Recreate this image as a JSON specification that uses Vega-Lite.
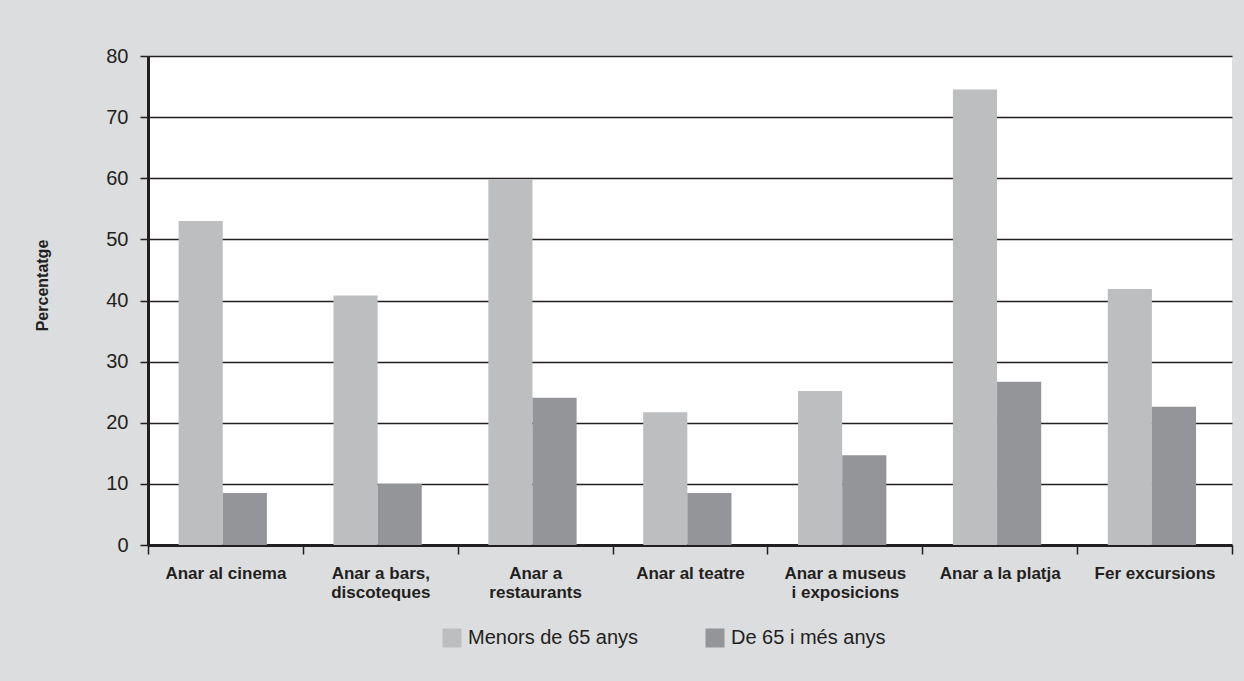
{
  "$schema": "https://vega.github.io/schema/vega-lite/v6.json",
  "autosize": {"type": "none"},
  "width": 1084,
  "height": 489,
  "padding": {"left": 148, "top": 56, "right": 12, "bottom": 136},
  "background": "#dcdddf",
  "config": {
    "view": {"fill": "white", "stroke": null},
    "font": "Liberation Sans"
  },
  "data": {
    "values": [
      {"activitat": "Anar al cinema", "grup": "Menors de 65 anys", "percentatge": 53},
      {"activitat": "Anar al cinema", "grup": "De 65 i més anys", "percentatge": 8.5},
      {"activitat": "Anar a bars, discoteques", "grup": "Menors de 65 anys", "percentatge": 40.8},
      {"activitat": "Anar a bars, discoteques", "grup": "De 65 i més anys", "percentatge": 10},
      {"activitat": "Anar a restaurants", "grup": "Menors de 65 anys", "percentatge": 59.8},
      {"activitat": "Anar a restaurants", "grup": "De 65 i més anys", "percentatge": 24.1},
      {"activitat": "Anar al teatre", "grup": "Menors de 65 anys", "percentatge": 21.7},
      {"activitat": "Anar al teatre", "grup": "De 65 i més anys", "percentatge": 8.5},
      {"activitat": "Anar a museus i exposicions", "grup": "Menors de 65 anys", "percentatge": 25.2},
      {"activitat": "Anar a museus i exposicions", "grup": "De 65 i més anys", "percentatge": 14.7},
      {"activitat": "Anar a la platja", "grup": "Menors de 65 anys", "percentatge": 74.5},
      {"activitat": "Anar a la platja", "grup": "De 65 i més anys", "percentatge": 26.7},
      {"activitat": "Fer excursions", "grup": "Menors de 65 anys", "percentatge": 41.9},
      {"activitat": "Fer excursions", "grup": "De 65 i més anys", "percentatge": 22.6}
    ]
  },
  "mark": {"type": "bar"},
  "encoding": {
    "x": {
      "field": "activitat",
      "type": "nominal",
      "sort": null,
      "scale": {"paddingInner": 0, "paddingOuter": 0},
      "axis": {
        "title": null,
        "labelAngle": 0,
        "labelFont": "Liberation Sans",
        "labelFontWeight": "bold",
        "labelFontSize": 17,
        "labelColor": "#231f20",
        "labelPadding": 11,
        "labelLineHeight": 19,
        "labelLimit": 200,
        "labelExpr": "datum.value == 'Anar a bars, discoteques' ? ['Anar a bars,', 'discoteques'] : datum.value == 'Anar a restaurants' ? ['Anar a', 'restaurants'] : datum.value == 'Anar a museus i exposicions' ? ['Anar a museus', 'i exposicions'] : datum.value",
        "domain": true,
        "domainColor": "#231f20",
        "domainWidth": 3,
        "ticks": true,
        "tickBand": "extent",
        "tickColor": "#231f20",
        "tickWidth": 1.5,
        "tickSize": 9
      }
    },
    "xOffset": {
      "field": "grup",
      "type": "nominal",
      "sort": ["Menors de 65 anys", "De 65 i més anys"],
      "scale": {"paddingInner": 0, "paddingOuter": 0.754, "align": 0.46}
    },
    "y": {
      "field": "percentatge",
      "type": "quantitative",
      "scale": {"domain": [0, 80], "nice": false},
      "axis": {
        "title": "Percentatge",
        "titleFont": "Liberation Sans",
        "titleFontWeight": "bold",
        "titleFontSize": 16,
        "titleColor": "#231f20",
        "titleAngle": -90,
        "titleX": -106,
        "titleY": 229,
        "titleAlign": "center",
        "titleBaseline": "middle",
        "values": [0, 10, 20, 30, 40, 50, 60, 70, 80],
        "labelFont": "Liberation Sans",
        "labelFontSize": 20,
        "labelColor": "#231f20",
        "labelPadding": 12,
        "grid": true,
        "gridColor": "#231f20",
        "gridWidth": 1.5,
        "domain": true,
        "domainColor": "#231f20",
        "domainWidth": 3,
        "tickColor": "#231f20",
        "tickWidth": 1.5,
        "tickSize": 8
      }
    },
    "color": {
      "field": "grup",
      "type": "nominal",
      "sort": ["Menors de 65 anys", "De 65 i més anys"],
      "scale": {"domain": ["Menors de 65 anys", "De 65 i més anys"], "range": ["#bdbec0", "#939598"]},
      "legend": {
        "title": null,
        "orient": "none",
        "direction": "horizontal",
        "legendX": 294,
        "legendY": 572,
        "symbolType": "square",
        "symbolSize": 361,
        "symbolStrokeWidth": 0,
        "symbolOpacity": 1,
        "labelFont": "Liberation Sans",
        "labelFontSize": 20,
        "labelColor": "#231f20",
        "labelOffset": 6,
        "labelLimit": 300,
        "columnPadding": 66
      }
    }
  }
}
